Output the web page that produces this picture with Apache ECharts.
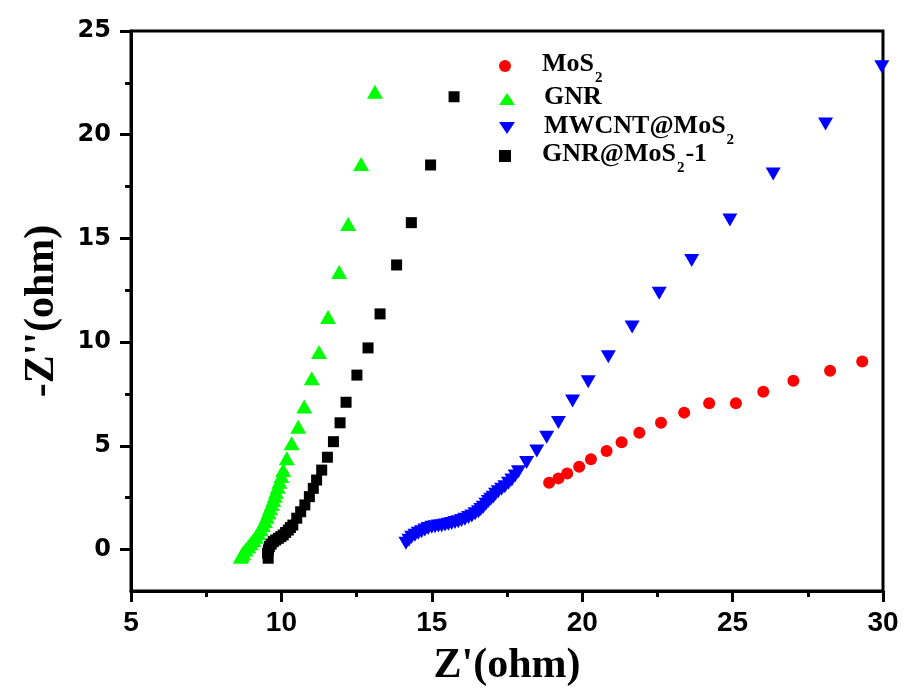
<!DOCTYPE html>
<html>
<head>
<meta charset="utf-8">
<script src="https://cdn.jsdelivr.net/npm/echarts@6/dist/echarts.min.js"></script>
<style>html,body{margin:0;padding:0;background:#fff;}#c{width:905px;height:700px;}</style>
</head>
<body>
<div id="c"></div>
<script>
// ---- data ----
const seriesNames = ['MoS2', 'GNR', 'MWCNT@MoS2', 'GNR@MoS2-1'];

const mosX = [18.90,19.21,19.50,19.90,20.29,20.81,21.31,21.90,22.62,23.39,24.22,25.11,26.02,27.02,28.24,29.31];
const mosY = [3.22,3.43,3.67,3.99,4.35,4.75,5.17,5.63,6.11,6.60,7.05,7.05,7.61,8.14,8.62,9.06];

const gnrX = [8.65,8.69,8.73,8.81,8.90,8.98,9.07,9.15,9.23,9.31,9.38,9.45,9.51,9.57,9.62,9.68,9.73,9.78,9.82,9.88,9.93,10.00,10.06,10.18,10.34,10.56,10.76,11.01,11.25,11.55,11.92,12.22,12.65,13.11];
const gnrY = [-0.35,-0.25,-0.15,0.00,0.14,0.30,0.46,0.62,0.78,0.98,1.18,1.38,1.58,1.79,1.99,2.19,2.39,2.59,2.79,3.03,3.27,3.55,3.83,4.40,5.12,5.92,6.89,8.26,9.52,11.21,13.38,15.70,18.59,22.07];

const mwX = [14.14,14.24,14.33,14.44,14.55,14.66,14.77,14.88,15.00,15.11,15.22,15.33,15.44,15.55,15.66,15.77,15.88,15.99,16.10,16.22,16.33,16.44,16.55,16.63,16.71,16.80,16.88,16.96,17.04,17.12,17.21,17.32,17.43,17.55,17.66,17.77,17.88,18.15,18.49,18.82,19.21,19.68,20.20,20.87,21.66,22.56,23.64,24.91,26.35,28.09,29.96];
const mwY = [0.30,0.45,0.59,0.69,0.78,0.86,0.94,1.01,1.07,1.10,1.13,1.15,1.18,1.22,1.26,1.30,1.34,1.40,1.46,1.54,1.62,1.72,1.82,1.93,2.04,2.18,2.31,2.42,2.52,2.66,2.79,2.91,3.03,3.19,3.35,3.55,3.75,4.19,4.75,5.41,6.12,7.16,8.09,9.30,10.73,12.35,13.93,15.89,18.11,20.52,23.28];

const gmX = [9.56,9.54,9.57,9.60,9.66,9.73,9.81,9.90,9.98,10.06,10.14,10.23,10.30,10.38,10.51,10.64,10.78,10.93,11.06,11.17,11.34,11.53,11.73,11.95,12.15,12.51,12.88,13.28,13.83,14.32,14.96,15.74];
const gmY = [-0.42,-0.18,-0.02,0.14,0.26,0.38,0.46,0.54,0.62,0.70,0.82,0.94,1.06,1.18,1.51,1.82,2.15,2.55,2.95,3.35,3.83,4.45,5.20,6.11,7.10,8.41,9.72,11.36,13.72,15.76,18.54,21.83];

const xTicks = [5,10,15,20,25,30];
const yTicks = [0,5,10,15,20,25];
const yMinorTicks = [2.5,7.5,12.5,17.5,22.5];

function pairs(xs, ys){ return xs.map((x,i)=>[x, ys[i]]); }

const chart = echarts.init(document.getElementById('c'));
const legendRich = {
  m: {fontFamily:'Liberation Serif', fontWeight:'bold', fontSize:26, color:'#000', lineHeight:30, verticalAlign:'top'},
  s: {fontFamily:'Liberation Serif', fontWeight:'bold', fontSize:15, color:'#000', lineHeight:12, padding:[20,1,0,1], verticalAlign:'top'}
};
const legendLabels = {
  'MoS2': '{m|MoS}{s|2}',
  'GNR': '{m|GNR}',
  'MWCNT@MoS2': '{m|MWCNT@MoS}{s|2}',
  'GNR@MoS2-1': '{m|GNR@MoS}{s|2}{m|-1}'
};
const legendIcons = ['circle', 'triangle', 'path://M0,0L16,0L8,12Z', 'path://M0,0H10V10H0Z'];
const legendTops = [51, 84, 113, 141];
const axisBlack = {color:'#000', width:3};

const legends = seriesNames.map((n, i) => ({
  orient:'vertical', left:499, top:legendTops[i], itemWidth:16, itemHeight:12, padding:0,
  data:[{name:n, icon:legendIcons[i]}],
  formatter: k => legendLabels[k],
  textStyle:{padding:[0,0,0,24], rich:legendRich}
}));

chart.setOption({
  animation:false,
  backgroundColor:'#fff',
  grid:{left:131, right:22, top:31, bottom:109, show:true, borderColor:'#000', borderWidth:3, backgroundColor:'transparent'},
  legend:legends,
  xAxis:{
    type:'value', min:5, max:30, interval:5,
    name:"Z'(ohm)", nameLocation:'middle', nameGap:54,
    nameTextStyle:{fontFamily:'Liberation Serif', fontWeight:'bold', fontSize:42, color:'#000'},
    axisLine:{show:true, onZero:false, lineStyle:axisBlack},
    axisTick:{show:true, inside:false, length:11, lineStyle:axisBlack},
    minorTick:{show:true, splitNumber:2, length:6, lineStyle:axisBlack},
    splitLine:{show:false},
    axisLabel:{margin:18, fontFamily:'Liberation Sans', fontWeight:'bold', fontSize:28, color:'#000'}
  },
  yAxis:[
    {
      type:'value', min:-2, max:25, position:'left',
      name:"-Z''(ohm)", nameLocation:'middle', nameGap:68, nameRotate:90,
      nameTextStyle:{fontFamily:'Liberation Serif', fontWeight:'bold', fontSize:42, color:'#000'},
      axisLine:{show:true, onZero:false, lineStyle:axisBlack},
      axisTick:{show:true, inside:false, length:11, lineStyle:axisBlack, customValues:yTicks},
      axisLabel:{margin:20, fontFamily:'DejaVu Sans', fontWeight:'bold', fontSize:24, color:'#000', customValues:yTicks},
      splitLine:{show:false}
    },
    {
      type:'value', min:-2, max:25, position:'left',
      axisLine:{show:false, onZero:false},
      axisTick:{show:true, inside:false, length:6, lineStyle:axisBlack, customValues:yMinorTicks},
      axisLabel:{show:false},
      splitLine:{show:false}
    }
  ],
  series:[
    {name:seriesNames[0], type:'scatter', data:pairs(mosX,mosY), symbol:'circle', symbolSize:12, itemStyle:{color:'#ff0000', opacity:1}},
    {name:seriesNames[1], type:'scatter', data:pairs(gnrX,gnrY), symbol:'triangle', symbolSize:[16,14], itemStyle:{color:'#00ff00', opacity:1}},
    {name:seriesNames[2], type:'scatter', data:pairs(mwX,mwY), symbol:'triangle', symbolRotate:180, symbolSize:[15,13], itemStyle:{color:'#0000ff', opacity:1}},
    {name:seriesNames[3], type:'scatter', data:pairs(gmX,gmY), symbol:'rect', symbolSize:[11,11], itemStyle:{color:'#000000', opacity:1}}
  ]
});
</script>
</body>
</html>
